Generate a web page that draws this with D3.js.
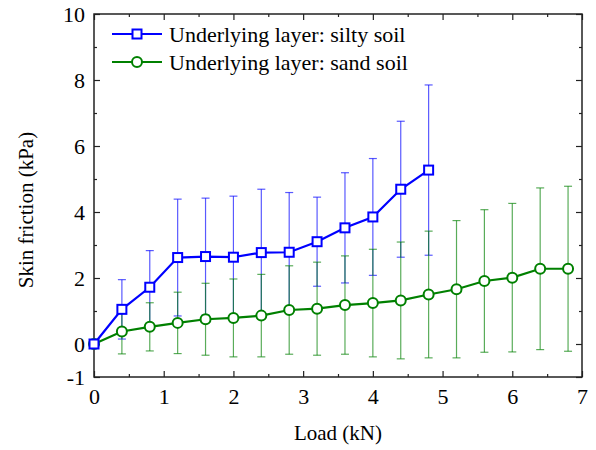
<!DOCTYPE html>
<html>
<head>
<meta charset="utf-8">
<script src="https://cdn.jsdelivr.net/npm/d3@7"></script>
<style>
  body { margin: 0; background: #fff; }
</style>
</head>
<body>
<div id="chart"></div>
<script>
// load steps (kN)
var siltyLoad = [0, 0.4, 0.8, 1.2, 1.6, 2.0, 2.4, 2.8, 3.2, 3.6, 4.0, 4.4, 4.8];
var siltyFriction = [0, 1.05, 1.72, 2.62, 2.65, 2.63, 2.77, 2.78, 3.1, 3.52, 3.85, 4.69, 5.27];
var siltyErr = [0, 0.9, 1.11, 1.77, 1.77, 1.85, 1.92, 1.81, 1.35, 1.67, 1.77, 2.06, 2.58];

var sandLoad = [0, 0.4, 0.8, 1.2, 1.6, 2.0, 2.4, 2.8, 3.2, 3.6, 4.0, 4.4, 4.8, 5.2, 5.6, 6.0, 6.4, 6.8];
var sandFriction = [0, 0.38, 0.52, 0.64, 0.75, 0.79, 0.86, 1.03, 1.07, 1.18, 1.24, 1.32, 1.5, 1.66, 1.91, 2.01, 2.28, 2.28];
var sandErr = [0, 0.68, 0.73, 0.93, 1.09, 1.18, 1.25, 1.34, 1.41, 1.49, 1.63, 1.77, 1.92, 2.08, 2.16, 2.25, 2.45, 2.5];

var xTicks = [0, 1, 2, 3, 4, 5, 6, 7];
var yTicks = [-1, 0, 2, 4, 6, 8, 10];

var seriesNames = ["Underlying layer: silty soil", "Underlying layer: sand soil"];

var width = 596, height = 450,
    margin = {top: 14, right: 14, bottom: 73, left: 94},
    w = width - margin.left - margin.right,
    h = height - margin.top - margin.bottom;

var svg = d3.select("#chart").append("svg")
    .attr("width", width)
    .attr("height", height);

var g = svg.append("g").attr("transform", "translate(" + margin.left + "," + margin.top + ")");

var x = d3.scaleLinear().domain([0, 7]).range([0, w]);
var y = d3.scaleLinear().domain([-1, 10]).range([h, 0]);

var series = [
  {name: seriesNames[0], color: "#0000ff", shape: "square",
   values: siltyLoad.map(function(d, i) { return {load: d, f: siltyFriction[i], e: siltyErr[i]}; })},
  {name: seriesNames[1], color: "#008000", shape: "circle",
   values: sandLoad.map(function(d, i) { return {load: d, f: sandFriction[i], e: sandErr[i]}; })}
];

// frame + ticks
var axisColor = "#222";
function styleAxis(sel) {
  sel.select(".domain").remove();
  sel.selectAll("line").attr("stroke", axisColor).attr("stroke-width", 1.2);
  sel.selectAll("text").attr("fill", "#000").style("font-size", "22px");
}
var fmt = function(d) { return String(d); };

var xMinor = d3.range(0.5, 7, 1);
var yMinor = [1, 3, 5, 7, 9];

g.append("g").attr("transform", "translate(0," + h + ")")
  .call(d3.axisBottom(x).tickValues(xTicks).tickSizeInner(-6).tickSizeOuter(0).tickPadding(11).tickFormat(fmt))
  .call(styleAxis);
g.append("g").attr("transform", "translate(0," + h + ")")
  .call(d3.axisBottom(x).tickValues(xMinor).tickSize(-3).tickFormat(""))
  .call(styleAxis);
g.append("g")
  .call(d3.axisTop(x).tickValues(xTicks).tickSize(-6).tickFormat(""))
  .call(styleAxis);
g.append("g")
  .call(d3.axisTop(x).tickValues(xMinor).tickSize(-3).tickFormat(""))
  .call(styleAxis);

g.append("g")
  .call(d3.axisLeft(y).tickValues(yTicks).tickSizeInner(-6).tickSizeOuter(0).tickPadding(9).tickFormat(fmt))
  .call(styleAxis);
g.append("g")
  .call(d3.axisLeft(y).tickValues(yMinor).tickSize(-3).tickFormat(""))
  .call(styleAxis);
g.append("g").attr("transform", "translate(" + w + ",0)")
  .call(d3.axisRight(y).tickValues(yTicks).tickSize(-6).tickFormat(""))
  .call(styleAxis);
g.append("g").attr("transform", "translate(" + w + ",0)")
  .call(d3.axisRight(y).tickValues(yMinor).tickSize(-3).tickFormat(""))
  .call(styleAxis);

g.append("rect")
  .attr("width", w).attr("height", h)
  .attr("fill", "none").attr("stroke", axisColor).attr("stroke-width", 1.5);

// error bars
var cap = 4;
series.forEach(function(s) {
  var eb = g.append("g").attr("stroke", s.color).attr("stroke-opacity", 0.65).attr("stroke-width", 1.2);
  s.values.filter(function(d) { return d.e > 0; }).forEach(function(d) {
    var cx = x(d.load), y1 = y(d.f + d.e), y0 = y(d.f - d.e);
    eb.append("line").attr("x1", cx).attr("x2", cx).attr("y1", y1).attr("y2", y0);
    eb.append("line").attr("x1", cx - cap).attr("x2", cx + cap).attr("y1", y1).attr("y2", y1);
    eb.append("line").attr("x1", cx - cap).attr("x2", cx + cap).attr("y1", y0).attr("y2", y0);
  });
});

var line = d3.line()
  .x(function(d) { return x(d.load); })
  .y(function(d) { return y(d.f); });

function marker(sel, s) {
  if (s.shape === "square") {
    sel.append("rect").attr("x", -4.5).attr("y", -4.5).attr("width", 9).attr("height", 9)
      .attr("fill", "#fff").attr("stroke", s.color).attr("stroke-width", 2);
  } else {
    sel.append("circle").attr("r", 5)
      .attr("fill", "#fff").attr("stroke", s.color).attr("stroke-width", 2);
  }
}

// draw sand first so silty sits on top
[series[1], series[0]].forEach(function(s) {
  g.append("path")
    .attr("d", line(s.values))
    .attr("fill", "none")
    .attr("stroke", s.color)
    .attr("stroke-width", 2.2);
  s.values.forEach(function(d) {
    var m = g.append("g").attr("transform", "translate(" + x(d.load) + "," + y(d.f) + ")");
    marker(m, s);
  });
});

// legend
var legend = g.append("g").attr("transform", "translate(18,20)");
series.forEach(function(s, i) {
  var row = legend.append("g").attr("transform", "translate(0," + (i * 28) + ")");
  row.append("line").attr("x1", 0).attr("x2", 50).attr("stroke", s.color).attr("stroke-width", 2.2);
  marker(row.append("g").attr("transform", "translate(25,0)"), s);
  row.append("text").attr("x", 57).attr("dy", "0.35em")
    .style("font-size", "22px").attr("fill", "#000").text(s.name);
});

// axis titles
svg.append("text")
  .attr("x", margin.left + w / 2).attr("y", 440)
  .attr("text-anchor", "middle").style("font-size", "21px")
  .text("Load (kN)");
svg.append("text")
  .attr("transform", "translate(33,210) rotate(-90)")
  .attr("text-anchor", "middle").style("font-size", "21px")
  .text("Skin friction (kPa)");

svg.selectAll("text").style("font-family", "'Liberation Serif', serif");
</script>
</body>
</html>
